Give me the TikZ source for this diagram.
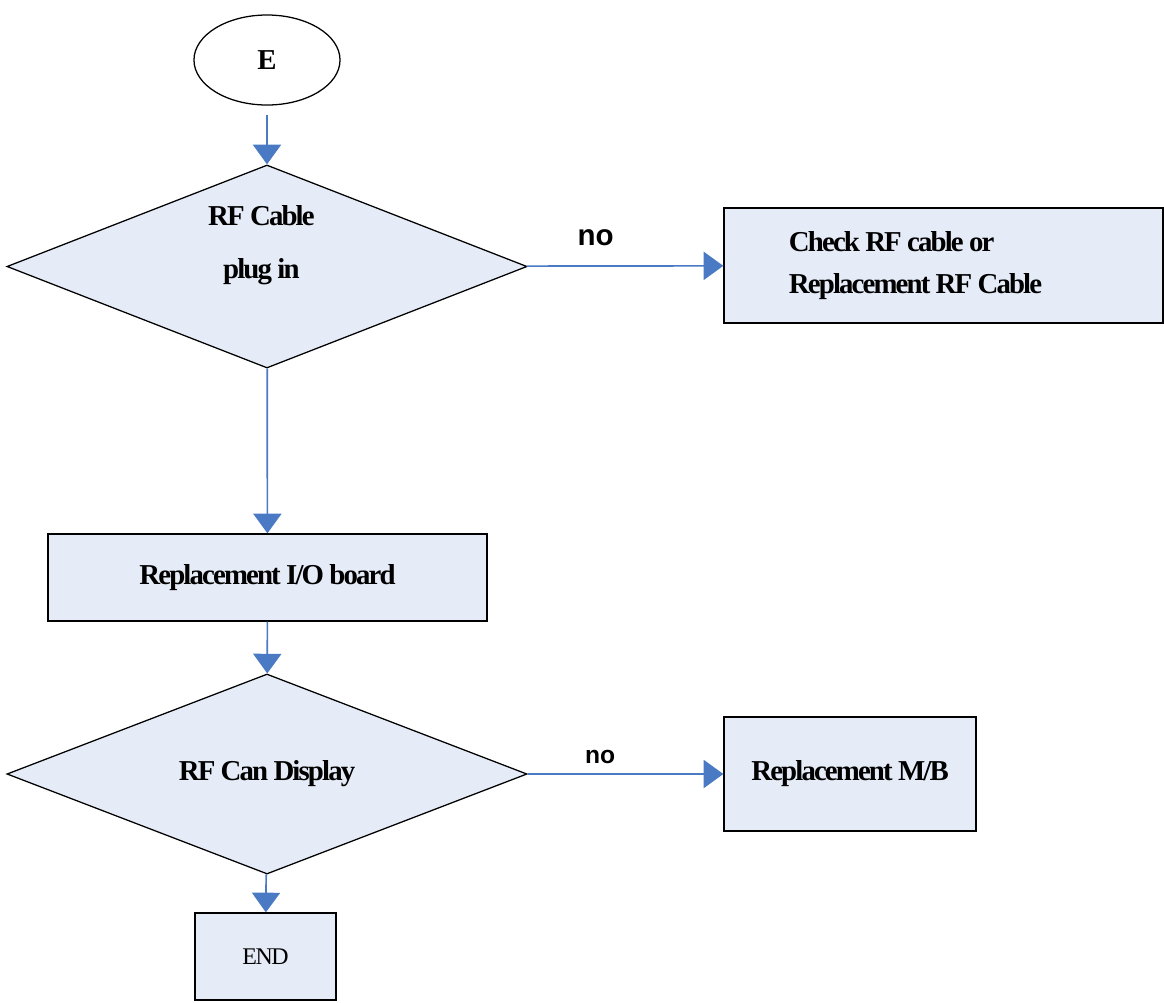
\documentclass[tikz,border=0pt]{standalone}
\usepackage{fontspec}
\setmainfont{Liberation Serif}
\newfontfamily\tightserif[LetterSpace=-6.5]{Liberation Serif}
\newfontfamily\labelsans{Liberation Sans}
\usepackage{tikz}
\usetikzlibrary{shapes,shapes.geometric,arrows.meta,positioning,calc}
\definecolor{FlowBlue}{HTML}{4A7AC4}
\definecolor{PaleBlue}{HTML}{E6ECF7}

\begin{document}
\begin{tikzpicture}[x=0.025cm,y=-0.025cm,
  boxfont/.style={font=\tightserif\fontsize{20.5}{24}\selectfont\bfseries},
  terminal/.style={ellipse,draw=black,line width=0.9pt,minimum width=3.65cm,
                   minimum height=2.25cm,inner sep=0pt,boxfont},
  decision/.style={diamond,draw=black,fill=PaleBlue,line width=0.9pt,aspect=2.5,
                   minimum width=13cm,inner sep=0pt,align=center,boxfont},
  action/.style={rectangle,draw=black,fill=PaleBlue,line width=0.9pt,align=center,boxfont},
  arrow/.style={-{Triangle[width=20pt,length=14pt]},FlowBlue,line width=1.2pt},
  answer/.style={text=black}
]
\useasboundingbox (0,0) rectangle (1164,1002);

\node[terminal] (e) at (267,60) {E};
\node[decision,minimum height=5.075cm,
      label={[boxfont,align=center,yshift=15pt,xshift=-4pt]center:RF Cable\\[14pt]plug in}] (d1) at (267,266.5) {};
\node[action,minimum width=10.975cm,minimum height=2.875cm,align=flush left,
      text width=7.725cm,inner xsep=1.625cm] (b1) at (943.5,265.5)
      {Check RF cable or\\[6pt]Replacement RF Cable};
\node[action,minimum width=10.975cm,minimum height=2.175cm] (b2) at (267.5,577.5) {Replacement I/O board};
\node[decision,minimum height=5cm] (d2) at (267,774) {RF Can Display};
\node[action,minimum width=6.3cm,minimum height=2.85cm] (b3) at (850,774) {Replacement M/B};
\node[action,minimum width=3.525cm,minimum height=2.175cm,
      font=\tightserif\fontsize{17}{20}\selectfont] (b4) at (265.5,956.5) {END};

\draw[arrow,shorten <=7pt] (e) -- (d1);
\draw[arrow] (d1) -- node[answer,pos=0.35,yshift=20.5pt,font=\labelsans\bfseries\fontsize{21}{24}\selectfont]{no} (b1);
\draw[arrow] (d1) -- (b2);
\draw[arrow] (b2) -- (d2);
\draw[arrow] (d2) -- node[answer,pos=0.37,yshift=12pt,font=\labelsans\bfseries\fontsize{17.5}{20}\selectfont]{no} (b3);
\draw[arrow] (d2) -- (b4);
\end{tikzpicture}
\end{document}
